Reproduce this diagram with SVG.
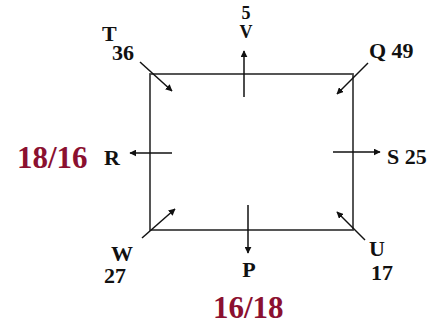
<svg xmlns="http://www.w3.org/2000/svg" width="438" height="324" viewBox="0 0 438 324">
<style>
.lbl{font-family:"Liberation Serif","Times New Roman",serif;font-weight:bold;font-size:22px;fill:#111}
.sm{font-size:18px}
.big{font-family:"Liberation Serif","Times New Roman",serif;font-weight:bold;font-size:31px;fill:#8B1030}
.box{fill:none;stroke:#444;stroke-width:1.8}
.arr{stroke:#111;stroke-width:1.5;fill:none;marker-end:url(#ah)}
</style>
<defs>
<marker id="ah" viewBox="0 0 10 10" refX="9" refY="5" markerWidth="7" markerHeight="7" markerUnits="userSpaceOnUse" orient="auto">
<path d="M0,0 L10,5 L0,10 z" fill="#111"/>
</marker>
</defs>
<g id="box"><rect class="box" x="150" y="74" width="203" height="156"/></g>
<g id="connectors">
<line class="arr" x1="140" y1="62" x2="172" y2="91"/>
<line class="arr" x1="244" y1="97" x2="244" y2="51"/>
<line class="arr" x1="368" y1="63" x2="337" y2="94"/>
<line class="arr" x1="172" y1="153" x2="130" y2="153"/>
<line class="arr" x1="333" y1="152" x2="380" y2="152"/>
<line class="arr" x1="142" y1="238" x2="175" y2="209"/>
<line class="arr" x1="248" y1="205" x2="248" y2="253"/>
<line class="arr" x1="365" y1="240" x2="337" y2="212"/>
</g>
<g id="node-V"><text class="lbl sm" x="246" y="19" text-anchor="middle">5</text><text class="lbl sm" x="246" y="38" text-anchor="middle">V</text></g>
<g id="node-T"><text class="lbl" x="102" y="41">T</text><text class="lbl" x="112" y="60">36</text></g>
<g id="node-Q"><text class="lbl" x="369" y="58">Q 49</text></g>
<g id="node-R"><text class="lbl" x="104" y="165">R</text><text class="big" x="17" y="168">18/16</text></g>
<g id="node-S"><text class="lbl" x="387" y="164">S 25</text></g>
<g id="node-W"><text class="lbl" x="111" y="261">W</text><text class="lbl" x="104" y="283">27</text></g>
<g id="node-P"><text class="lbl" x="249" y="277" text-anchor="middle">P</text><text class="big" x="213" y="318">16/18</text></g>
<g id="node-U"><text class="lbl" x="369" y="256">U</text><text class="lbl" x="371" y="280">17</text></g>
</svg>
